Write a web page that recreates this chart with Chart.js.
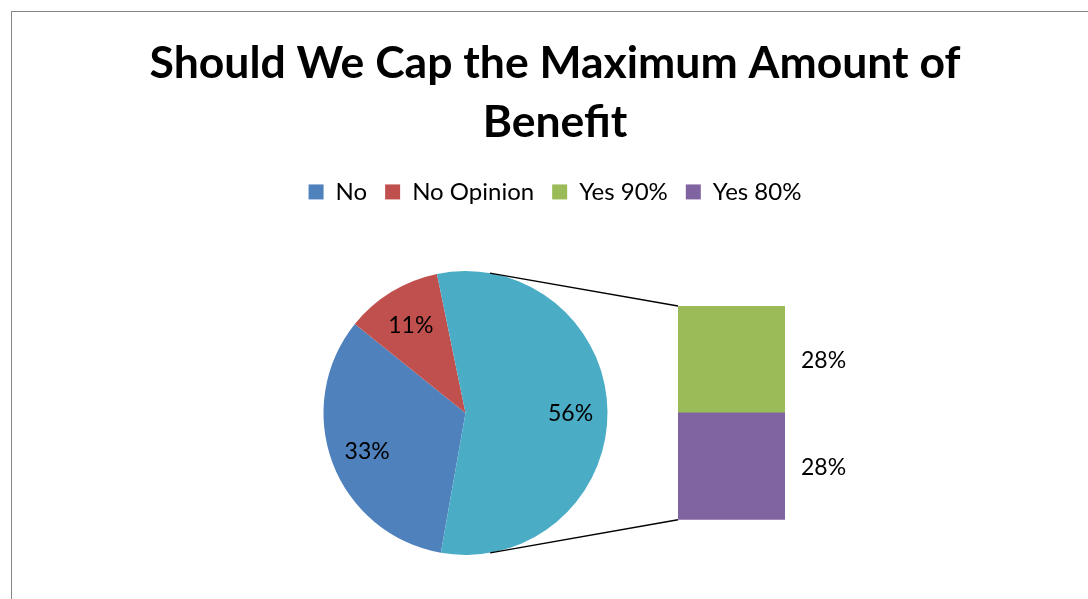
<!DOCTYPE html>
<html><head><meta charset="utf-8">
<script src="https://cdn.jsdelivr.net/npm/chart.js@4.4.1/dist/chart.umd.min.js"></script>
<style>
html,body{margin:0;padding:0;background:#fff;overflow:hidden;}
#wrap{position:relative;width:1088px;height:599px;overflow:hidden;}
#frame{position:absolute;left:11px;top:11px;width:1200px;height:700px;border-left:1px solid #868686;border-top:1px solid #868686;}
#wrap canvas{position:absolute;left:0;top:0;}
</style></head>
<body>
<div id="wrap">
<div id="frame"></div>
<canvas id="pie" width="1088" height="599"></canvas>
<canvas id="bar" width="1088" height="599"></canvas>
</div>
<script>
// ---- data ----
const titleLines = ['Should We Cap the Maximum Amount of', 'Benefit'];
const pieCategories = ['No', 'No Opinion', 'Other'];
const pieValues = [33, 11, 56];
const barCategories = ['Yes 80%', 'Yes 90%']; // bottom to top of the stacked bar
const barValues = [28, 28];
const legendOrder = ['No', 'No Opinion', 'Yes 90%', 'Yes 80%'];

// ---- styles ----
const colorMap = {'No':'#4F81BD','No Opinion':'#C0504D','Other':'#4BACC6','Yes 90%':'#9BBB59','Yes 80%':'#8064A2'};
const FONT = 'Lato';

const placeArea = {
  id: 'placeArea',
  afterLayout(chart, args, o) {
    const m = o.r + 10;
    chart.chartArea = {left:o.cx - m, right:o.cx + m, top:o.cy - m, bottom:o.cy + m, width:2*m, height:2*m};
  }
};

const pieLabels = {
  id: 'pieLabels',
  afterDatasetsDraw(chart) {
    const ctx = chart.ctx;
    const meta = chart.getDatasetMeta(0);
    ctx.save();
    ctx.font = '23px ' + FONT;
    ctx.fillStyle = '#000';
    ctx.textAlign = 'center';
    ctx.textBaseline = 'middle';
    meta.data.forEach((el, i) => {
      const p = el.getProps(['x','y','startAngle','endAngle','outerRadius'], true);
      const mid = (p.startAngle + p.endAngle) / 2;
      const d = p.outerRadius * 0.74;
      ctx.fillText(pieValues[i] + '%', p.x + Math.cos(mid) * d, p.y + Math.sin(mid) * d + 2);
    });
    ctx.restore();
  }
};

let pieChart;

const barExtras = {
  id: 'barExtras',
  afterDatasetsDraw(chart) {
    const ctx = chart.ctx;
    const bottom = chart.getDatasetMeta(0).data[0].getProps(['x','y','base','width'], true);
    const top = chart.getDatasetMeta(chart.data.datasets.length - 1).data[0].getProps(['x','y','base','width'], true);
    const left = top.x - top.width / 2;
    const arc = pieChart.getDatasetMeta(0).data[0].getProps(['x','y','outerRadius'], true);
    const cx = arc.x, cy = arc.y, r = arc.outerRadius;
    function tangent(px, py, sign) {
      const dx = px - cx, dy = py - cy;
      const d = Math.hypot(dx, dy);
      const phi = Math.atan2(dy, dx);
      const a = Math.acos(r / d);
      const t = phi + sign * a;
      return [cx + r * Math.cos(t), cy + r * Math.sin(t)];
    }
    ctx.save();
    ctx.strokeStyle = '#000';
    ctx.lineWidth = 1.4;
    const t1 = tangent(left, top.y, -1);
    const t2 = tangent(left, bottom.base, 1);
    ctx.beginPath();
    ctx.moveTo(t1[0], t1[1]); ctx.lineTo(left, top.y);
    ctx.moveTo(t2[0], t2[1]); ctx.lineTo(left, bottom.base);
    ctx.stroke();
    ctx.font = '23px ' + FONT;
    ctx.fillStyle = '#000';
    ctx.textAlign = 'left';
    ctx.textBaseline = 'middle';
    chart.data.datasets.forEach((ds, i) => {
      const p = chart.getDatasetMeta(i).data[0].getProps(['x','y','base','width'], true);
      ctx.fillText(barValues[i] + '%', p.x + p.width / 2 + 16, (p.y + p.base) / 2 + 1.5);
    });
    ctx.restore();
  }
};

function build() {
  pieChart = new Chart(document.getElementById('pie'), {
    type: 'pie',
    data: {
      labels: pieCategories,
      datasets: [{
        data: pieValues,
        backgroundColor: pieCategories.map(c => colorMap[c]),
        borderWidth: 0,
        radius: 142
      }]
    },
    options: {
      responsive: false,
      animation: false,
      rotation: 190,
      layout: {padding: {left: 22}},
      plugins: {
        placeArea: {cx: 465.5, cy: 413, r: 142},
        title: {
          display: true, text: titleLines, color: '#000',
          font: {family: FONT, size: 44.5, weight: 'bold', lineHeight: 1.325},
          padding: {top: 34, bottom: 10}
        },
        legend: {
          display: true, position: 'top',
          labels: {
            boxWidth: 15, boxHeight: 15, padding: 18, color: '#000',
            font: {family: FONT, size: 24},
            generateLabels: () => legendOrder.map((name, i) => ({
              text: name, fillStyle: colorMap[name], strokeStyle: colorMap[name],
              lineWidth: 0, hidden: false, index: i
            }))
          }
        },
        tooltip: {enabled: false}
      }
    },
    plugins: [placeArea, pieLabels]
  });

  const total = barValues.reduce((a, b) => a + b, 0);
  new Chart(document.getElementById('bar'), {
    type: 'bar',
    data: {
      labels: ['Yes'],
      datasets: barCategories.map((name, i) => ({
        label: name,
        data: [barValues[i]],
        backgroundColor: colorMap[name],
        borderWidth: 0,
        barPercentage: 1,
        categoryPercentage: 1
      }))
    },
    options: {
      responsive: false,
      animation: false,
      layout: {padding: {left: 678, right: 303, top: 306, bottom: 79.3}},
      scales: {
        x: {display: false, stacked: true},
        y: {display: false, stacked: true, min: 0, max: total}
      },
      plugins: {legend: {display: false}, title: {display: false}, tooltip: {enabled: false}}
    },
    plugins: [barExtras]
  });
}

Promise.all([
  document.fonts.load('bold 44px Lato'),
  document.fonts.load('24px Lato')
]).then(build, build);
</script>
</body></html>
